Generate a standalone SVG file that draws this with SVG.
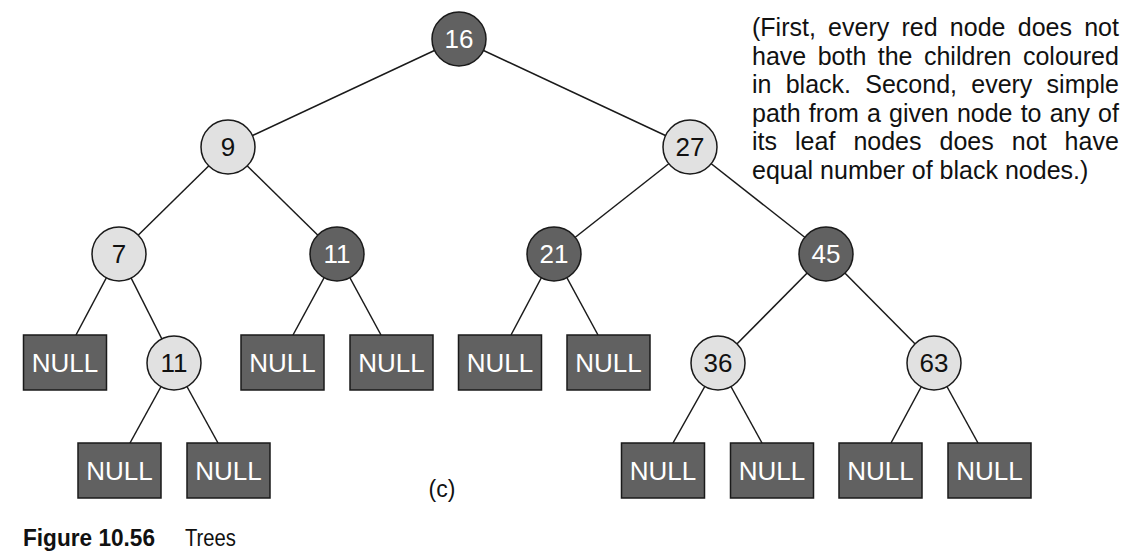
<svg xmlns="http://www.w3.org/2000/svg" width="1133" height="560" viewBox="0 0 1133 560">
<style>
.edge{stroke:#1a1a1a;stroke-width:1.5;fill:none}
.dark{fill:#616161;stroke:#1a1a1a;stroke-width:1.5}
.light{fill:#e1e1e1;stroke:#1a1a1a;stroke-width:1.5}
.box{fill:#616161;stroke:#1a1a1a;stroke-width:1.5}
.wt{fill:#ffffff;font-family:"Liberation Sans",Arial,sans-serif;font-size:26px;text-anchor:middle}
.bt{fill:#111111;font-family:"Liberation Sans",Arial,sans-serif;font-size:26px;text-anchor:middle}
.para{fill:#111111;font-family:"Liberation Sans",Arial,sans-serif;font-size:25px}
</style>
<rect width="1133" height="560" fill="#ffffff"/>
<g id="connectors">
<line class="edge" x1="459" y1="39" x2="228" y2="147"/>
<line class="edge" x1="459" y1="39" x2="690" y2="147"/>
<line class="edge" x1="228" y1="147" x2="119" y2="254"/>
<line class="edge" x1="228" y1="147" x2="337" y2="254"/>
<line class="edge" x1="690" y1="147" x2="554" y2="254"/>
<line class="edge" x1="690" y1="147" x2="826" y2="254"/>
<line class="edge" x1="119" y1="254" x2="76" y2="335"/>
<line class="edge" x1="119" y1="254" x2="174" y2="363"/>
<line class="edge" x1="337" y1="254" x2="293" y2="335"/>
<line class="edge" x1="337" y1="254" x2="381" y2="335"/>
<line class="edge" x1="174" y1="363" x2="130" y2="443"/>
<line class="edge" x1="174" y1="363" x2="218" y2="443"/>
<line class="edge" x1="554" y1="254" x2="511" y2="335"/>
<line class="edge" x1="554" y1="254" x2="598" y2="335"/>
<line class="edge" x1="826" y1="254" x2="718" y2="363"/>
<line class="edge" x1="826" y1="254" x2="934" y2="363"/>
<line class="edge" x1="718" y1="363" x2="673" y2="443"/>
<line class="edge" x1="718" y1="363" x2="762" y2="443"/>
<line class="edge" x1="934" y1="363" x2="891" y2="443"/>
<line class="edge" x1="934" y1="363" x2="978" y2="443"/>
</g>
<g id="n16"><circle class="dark" cx="459" cy="39" r="27"/><text class="wt" x="459" y="48.3">16</text></g>
<g id="n9"><circle class="light" cx="228" cy="147" r="27"/><text class="bt" x="228" y="156.3">9</text></g>
<g id="n27"><circle class="light" cx="690" cy="147" r="27"/><text class="bt" x="690" y="156.3">27</text></g>
<g id="n7"><circle class="light" cx="119" cy="254" r="27"/><text class="bt" x="119" y="263.3">7</text></g>
<g id="n11b"><circle class="dark" cx="337" cy="254" r="27"/><text class="wt" x="337" y="263.3">11</text></g>
<g id="n21"><circle class="dark" cx="554" cy="254" r="27"/><text class="wt" x="554" y="263.3">21</text></g>
<g id="n45"><circle class="dark" cx="826" cy="254" r="27"/><text class="wt" x="826" y="263.3">45</text></g>
<g id="n11r"><circle class="light" cx="174" cy="363" r="27"/><text class="bt" x="174" y="372.3">11</text></g>
<g id="n36"><circle class="light" cx="718" cy="363" r="27"/><text class="bt" x="718" y="372.3">36</text></g>
<g id="n63"><circle class="light" cx="934" cy="363" r="27"/><text class="bt" x="934" y="372.3">63</text></g>
<g id="null1"><rect class="box" x="23.5" y="335" width="83" height="55"/><text class="wt" x="65" y="372">NULL</text></g>
<g id="null2"><rect class="box" x="241" y="335" width="83" height="55"/><text class="wt" x="282.5" y="372">NULL</text></g>
<g id="null3"><rect class="box" x="350" y="335" width="83" height="55"/><text class="wt" x="391.5" y="372">NULL</text></g>
<g id="null4"><rect class="box" x="458.5" y="335" width="83" height="55"/><text class="wt" x="500" y="372">NULL</text></g>
<g id="null5"><rect class="box" x="567" y="335" width="83" height="55"/><text class="wt" x="608.5" y="372">NULL</text></g>
<g id="null6"><rect class="box" x="78" y="443" width="83" height="55"/><text class="wt" x="119.5" y="480">NULL</text></g>
<g id="null7"><rect class="box" x="187" y="443" width="83" height="55"/><text class="wt" x="228.5" y="480">NULL</text></g>
<g id="null8"><rect class="box" x="621.5" y="443" width="83" height="55"/><text class="wt" x="663" y="480">NULL</text></g>
<g id="null9"><rect class="box" x="730.5" y="443" width="83" height="55"/><text class="wt" x="772" y="480">NULL</text></g>
<g id="null10"><rect class="box" x="839" y="443" width="83" height="55"/><text class="wt" x="880.5" y="480">NULL</text></g>
<g id="null11"><rect class="box" x="948" y="443" width="83" height="55"/><text class="wt" x="989.5" y="480">NULL</text></g>
<g id="note">
<text class="para" x="752" y="36" word-spacing="5.3">(First, every red node does not</text>
<text class="para" x="752" y="64.5" word-spacing="4.5">have both the children coloured</text>
<text class="para" x="752" y="93" word-spacing="7.3">in black. Second, every simple</text>
<text class="para" x="752" y="121.5" word-spacing="1.2">path from a given node to any of</text>
<text class="para" x="752" y="150" word-spacing="11.1">its leaf nodes does not have</text>
<text class="para" x="752" y="178.5">equal number of black nodes.)</text>
</g>
<text class="bt" x="442" y="497" style="font-size:23px">(c)</text>
<g id="caption">
<text x="23" y="546" textLength="132" lengthAdjust="spacingAndGlyphs" style="font-family:'Liberation Sans Narrow','Liberation Sans',Arial,sans-serif;font-weight:bold;font-size:23px;fill:#111">Figure 10.56</text>
<text x="185" y="546" textLength="51" lengthAdjust="spacingAndGlyphs" style="font-family:'Liberation Sans Narrow','Liberation Sans',Arial,sans-serif;font-size:23px;fill:#111">Trees</text>
</g>
</svg>
